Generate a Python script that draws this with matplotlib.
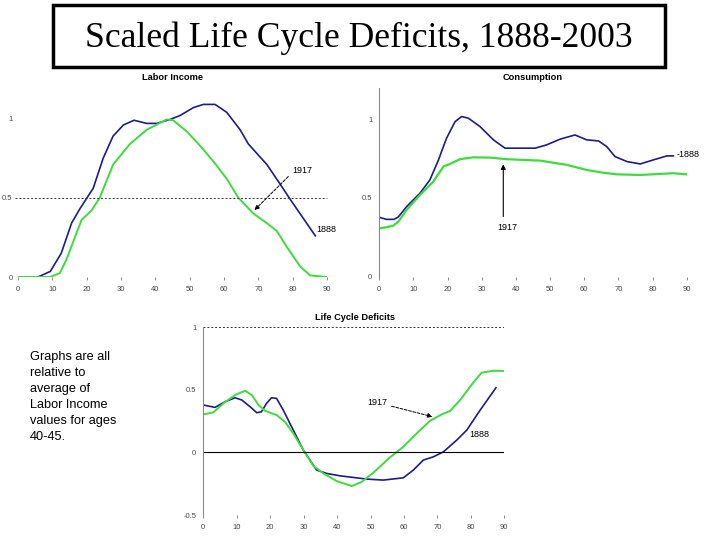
import matplotlib.pyplot as plt
from matplotlib.patches import Rectangle

# =========================
# DATA
# =========================
# Labor income, 1888
li_1888_age = [0, 5.8, 9.4, 12.6, 15.6, 18.0, 20.1, 21.9, 24.8, 27.7, 30.7, 33.8, 37.5,
               40.4, 44.3, 47.2, 51.1, 54.0, 57.4, 60.8, 64.7, 67.1, 72.5, 76.4, 79.3, 86.6]
li_1888_val = [0, 0, 0.035, 0.15, 0.34, 0.43, 0.50, 0.56, 0.75, 0.89, 0.96, 0.99, 0.97,
               0.97, 0.995, 1.02, 1.07, 1.09, 1.09, 1.04, 0.93, 0.84, 0.71, 0.585, 0.49, 0.26]

# Labor income, 1917
li_1917_age = [0, 9.4, 12.2, 14.1, 18.5, 21.4, 23.8, 27.7, 32.6, 37.5, 43.3, 45.2, 49.1,
               53.0, 56.9, 60.8, 64.2, 68.6, 72.5, 75.4, 78.3, 82.2, 85.1, 90]
li_1917_val = [0, 0, 0.025, 0.11, 0.36, 0.42, 0.50, 0.71, 0.84, 0.93, 0.995, 0.99, 0.92,
               0.83, 0.73, 0.62, 0.50, 0.40, 0.34, 0.29, 0.19, 0.066, 0.01, 0]

# Consumption, 1888
cons_1888_age = [0, 2.1, 4.3, 5.6, 8.0, 11.9, 14.8, 17.3, 19.7, 22.2, 24.1, 26.1, 29.5,
                 33.4, 36.8, 40.2, 45.6, 49.0, 52.9, 57.3, 60.7, 64.2, 66.6, 69.0, 72.5,
                 76.4, 80.3, 84.2, 86.1]
cons_1888_val = [0.377, 0.364, 0.364, 0.38, 0.445, 0.53, 0.614, 0.74, 0.88, 0.985, 1.017,
                 1.006, 0.953, 0.869, 0.816, 0.816, 0.816, 0.837, 0.873, 0.90, 0.869, 0.862,
                 0.826, 0.763, 0.731, 0.716, 0.742, 0.767, 0.767]

# Consumption, 1917
cons_1917_age = [0, 2.1, 4.1, 5.6, 8.0, 11.9, 15.8, 18.8, 20.7, 23.6, 27.5, 32.4, 37.3,
                 47.1, 54.9, 60.7, 64.6, 69.5, 76.4, 86.1, 89.8]
cons_1917_val = [0.307, 0.314, 0.324, 0.35, 0.424, 0.519, 0.604, 0.70, 0.716, 0.746, 0.758,
                 0.756, 0.746, 0.737, 0.71, 0.678, 0.663, 0.65, 0.646, 0.657, 0.65]

# Life cycle deficit, 1888
lcd_1888_age = [0, 3.5, 6.5, 9.5, 11.5, 14.0, 16.0, 17.4, 18.9, 20.4, 21.9, 23.9, 25.9,
                28.4, 29.9, 31.9, 33.9, 36.9, 40.9, 44.9, 48.9, 53.8, 59.8, 62.8, 65.8,
                68.8, 71.8, 75.8, 78.8, 82.8, 87.5]
lcd_1888_val = [0.379, 0.36, 0.405, 0.437, 0.419, 0.365, 0.317, 0.325, 0.392, 0.437, 0.432,
                0.339, 0.232, 0.099, 0.019, -0.061, -0.141, -0.168, -0.187, -0.2, -0.213,
                -0.221, -0.203, -0.141, -0.061, -0.035, 0.005, 0.099, 0.179, 0.339, 0.517]

# Life cycle deficit, 1917
lcd_1917_age = [0, 3.0, 6.0, 9.5, 12.5, 14.5, 16.5, 18.4, 21.9, 24.4, 26.9, 29.9, 32.9,
                35.9, 39.9, 44.4, 47.4, 50.8, 55.8, 59.8, 63.8, 67.8, 71.3, 73.8, 76.8,
                80.3, 83.2, 86.7, 90]
lcd_1917_val = [0.304, 0.32, 0.392, 0.459, 0.493, 0.459, 0.379, 0.333, 0.299, 0.245, 0.152,
                0.019, -0.107, -0.168, -0.229, -0.269, -0.235, -0.163, -0.04, 0.045, 0.152,
                0.253, 0.304, 0.331, 0.419, 0.544, 0.637, 0.653, 0.651]

age_ticks = [0, 10, 20, 30, 40, 50, 60, 70, 80, 90]

NAVY = "#1c1c8a"
GREEN = "#3ddc3d"
TICK_COLOR = "#444444"
SANS = "Liberation Sans"

# =========================
# FIGURE
# =========================
fig = plt.figure(figsize=(7.2, 5.4), dpi=100)

# title box
fig.patches.append(Rectangle((53 / 720, 1 - 67 / 540), 612 / 720, 62 / 540,
                             transform=fig.transFigure, fill=False,
                             edgecolor="black", linewidth=2.5))
fig.text(359 / 720, 1 - 38 / 540, "Scaled Life Cycle Deficits, 1888-2003",
         ha="center", va="center", fontsize=25.6, family="Liberation Serif")


def style_axes(ax, show_yaxis=True):
    for s in ["top", "right", "bottom"]:
        ax.spines[s].set_visible(False)
    ax.spines["left"].set_color("#888888")
    ax.spines["left"].set_linewidth(0.8)
    ax.spines["left"].set_visible(show_yaxis)
    ax.set_xticks(age_ticks)
    ax.set_xticklabels([str(a) for a in age_ticks])
    ax.tick_params(axis="x", length=2.5, width=0.6, color="#777777", pad=4,
                   labelsize=5.5, labelcolor=TICK_COLOR, direction="out")
    ax.tick_params(axis="y", length=0, pad=5, labelsize=5.5, labelcolor=TICK_COLOR)
    for lab in ax.get_xticklabels() + ax.get_yticklabels():
        lab.set_family(SANS)
    ax.set_facecolor("none")


# =========================
# LABOR INCOME
# =========================
ax1 = fig.add_axes([18 / 720, 1 - 277 / 540, 309 / 720, 190 / 540])
ax1.plot(li_1888_age, li_1888_val, color=NAVY, lw=1.2)
ax1.plot(li_1917_age, li_1917_val, color=GREEN, lw=1.4)
ax1.plot([-1, 90], [0.5, 0.5], color="#333333", lw=0.7, ls=(0, (2, 2)), clip_on=False)
ax1.set_xlim(0, 90)
ax1.set_ylim(0, 1.2)
ax1.set_yticks([0, 0.5, 1])
ax1.set_yticklabels(["0", "0.5", "1"])
style_axes(ax1, show_yaxis=False)
ax1.tick_params(axis="y", pad=4)
ax1.annotate("", xy=(68.3, 0.41), xytext=(79.3, 0.647),
             arrowprops=dict(arrowstyle="-|>", color="black", lw=0.7,
                             ls=(0, (3, 1.5)), mutation_scale=7))
ax1.text(79.8, 0.67, "1917", fontsize=6.5, family=SANS, va="center", ha="left")
ax1.text(87.0, 0.30, "1888", fontsize=6.5, family=SANS, va="center", ha="left",
         clip_on=False)
fig.text(173 / 720, 1 - 77 / 540, "Labor Income", ha="center", va="center",
         fontsize=6.7, weight="bold", family=SANS)

# =========================
# CONSUMPTION
# =========================
ax2 = fig.add_axes([379.3 / 720, 1 - 276.7 / 540, 307.4 / 720, 189 / 540])
ax2.plot(cons_1888_age, cons_1888_val, color=NAVY, lw=1.2)
ax2.plot(cons_1917_age, cons_1917_val, color=GREEN, lw=1.6)
ax2.set_xlim(0, 90)
ax2.set_ylim(0, 1.2)
ax2.set_yticks([0, 0.5, 1])
ax2.set_yticklabels(["0", "0.5", "1"])
style_axes(ax2)
ax2.annotate("", xy=(36.3, 0.731), xytext=(36.3, 0.364),
             arrowprops=dict(arrowstyle="-|>", color="black", lw=0.8, mutation_scale=7))
ax2.text(37.5, 0.31, "1917", fontsize=6.5, family=SANS, va="center", ha="center")
ax2.text(87.0, 0.775, "-1888", fontsize=6.5, family=SANS, va="center", ha="left",
         clip_on=False)
fig.text(533 / 720, 1 - 77 / 540, "Consumption", ha="center", va="center",
         fontsize=6.7, weight="bold", family=SANS)

# =========================
# LIFE CYCLE DEFICITS
# =========================
ax3 = fig.add_axes([203.3 / 720, 1 - 515 / 540, 301 / 720, 187.7 / 540])
ax3.plot(lcd_1888_age, lcd_1888_val, color=NAVY, lw=1.2)
ax3.plot(lcd_1917_age, lcd_1917_val, color=GREEN, lw=1.4)
ax3.axhline(0, color="black", lw=0.8)
ax3.axhline(1, color="#333333", lw=0.7, ls=(0, (2, 2)))
ax3.set_xlim(0, 90)
ax3.set_ylim(-0.5, 1)
ax3.set_yticks([-0.5, 0, 0.5, 1])
ax3.set_yticklabels(["-0.5", "0", "0.5", "1"])
style_axes(ax3)
ax3.annotate("", xy=(69.3, 0.28), xytext=(55.5, 0.375),
             arrowprops=dict(arrowstyle="-|>", color="black", lw=0.7,
                             ls=(0, (3, 1.5)), mutation_scale=7))
ax3.text(52.0, 0.40, "1917", fontsize=6.5, family=SANS, va="center", ha="center")
ax3.text(79.5, 0.14, "1888", fontsize=6.5, family=SANS, va="center", ha="left")
fig.text(355 / 720, 1 - 317 / 540, "Life Cycle Deficits", ha="center", va="center",
         fontsize=6.7, weight="bold", family=SANS)

# =========================
# NOTE
# =========================
fig.text(30 / 720, 1 - 351 / 540,
         "Graphs are all\nrelative to\naverage of\nLabor Income\nvalues for ages\n40-45.",
         ha="left", va="top", fontsize=9.2, family=SANS, linespacing=1.45)

fig.savefig("out.png", dpi=100)
